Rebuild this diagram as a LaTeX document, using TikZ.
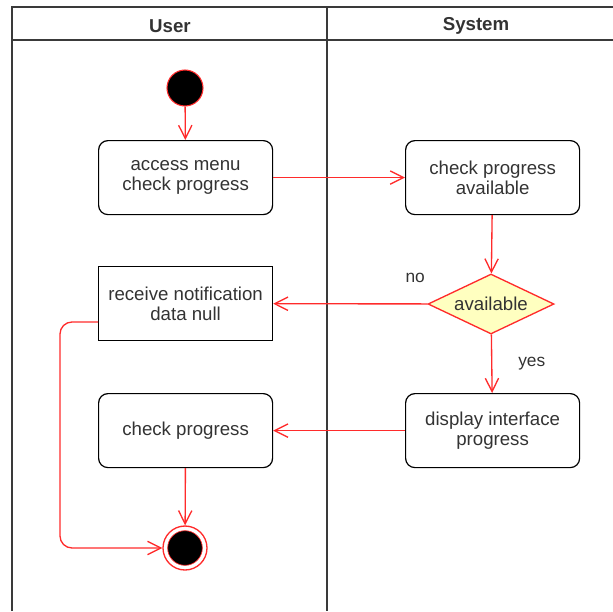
\documentclass[tikz,border=0pt]{standalone}
\usepackage{fontspec}
\setmainfont{Liberation Sans}
\usetikzlibrary{arrows.meta,shapes.geometric}
\definecolor{flowred}{HTML}{FF2B2B}
\definecolor{lanegray}{HTML}{3A3A3A}
\definecolor{choicefill}{HTML}{FFFFC0}
\definecolor{txtgray}{HTML}{333333}
\begin{document}
\begin{tikzpicture}[x=0.75pt,y=-0.75pt]
    \tikzstyle{arrow} = [->,>={Straight Barb[length=10pt,width=10pt]},
        draw=flowred, line width=1pt]
    \tikzstyle{lane} = [draw=lanegray, line width=1.2pt]
    \tikzstyle{rec} = [rectangle, draw=black, align=center, text=txtgray,
        minimum height=55.5pt, minimum width=130.5pt, inner sep=0pt,
        line width=0.9pt, font=\fontsize{14}{15}\selectfont]
    \tikzstyle{act} = [rec, rounded corners=7pt]
    \tikzstyle{choice} = [diamond, draw=flowred, fill=choicefill, aspect=2.1,
        minimum width=94.5pt, minimum height=45pt, inner sep=0pt,
        line width=1pt, text=txtgray, font=\fontsize{14}{15}\selectfont]
    \tikzstyle{lbl} = [text=txtgray, font=\fontsize{13}{15}\selectfont]

    \useasboundingbox (0,0) rectangle (613,611);

    % swimlanes
    \draw[lane] (12,611) -- (12,7) -- (613,7);
    \draw[lane] (12,40) -- (613,40);
    \draw[lane] (327,7) -- (327,611);
    \node(userlane) [lbl, font=\fontsize{14}{16}\selectfont\bfseries]
        at (170,26) {User};
    \node(syslane) [lbl, font=\fontsize{14}{16}\selectfont\bfseries]
        at (476,26) {System};

    \node(init) [circle, fill=black, draw=flowred, line width=0.8pt,
        minimum size=27pt, inner sep=0pt] at (185,88) {};

    \node(access) [act] at (98,140) [anchor=north west]
        {access menu\\check progress};

    \node(check) [act] at (405,140) [anchor=north west]
        {check progress\\available};

    \node(avail) [choice] at (491,304) {available};

    \node(notify) [rec] at (98,266) [anchor=north west]
        {receive notification\\data null};

    \node(display) [act] at (405,393) [anchor=north west]
        {display interface\\progress};

    \node(progress) [act] at (98,393) [anchor=north west]
        {check progress};

    \node(final) [circle, draw=flowred, line width=1pt,
        minimum size=33pt, inner sep=0pt] at (185,548) {};
    \node(finaldot) [circle, fill=black, draw=flowred, line width=0.5pt,
        minimum size=26pt, inner sep=0pt] at (final) {};

    \coordinate(nullout) at (98,322);

    \draw[arrow] (init) -- (access);
    \draw[arrow] (access) -- (check);
    \draw[arrow] (check) -- (avail);
    \draw[arrow] (avail) -- node[lbl, pos=0.08, yshift=19.5pt] {no} (notify);
    \draw[arrow] (avail) -- node[lbl, pos=0.5, xshift=30pt] {yes} (display);
    \draw[arrow] (display) -- (progress);
    \draw[arrow] (progress) -- (final);
    \draw[arrow, rounded corners=9pt] (nullout) -- ++(-38,0) |- (final.west);
\end{tikzpicture}
\end{document}
